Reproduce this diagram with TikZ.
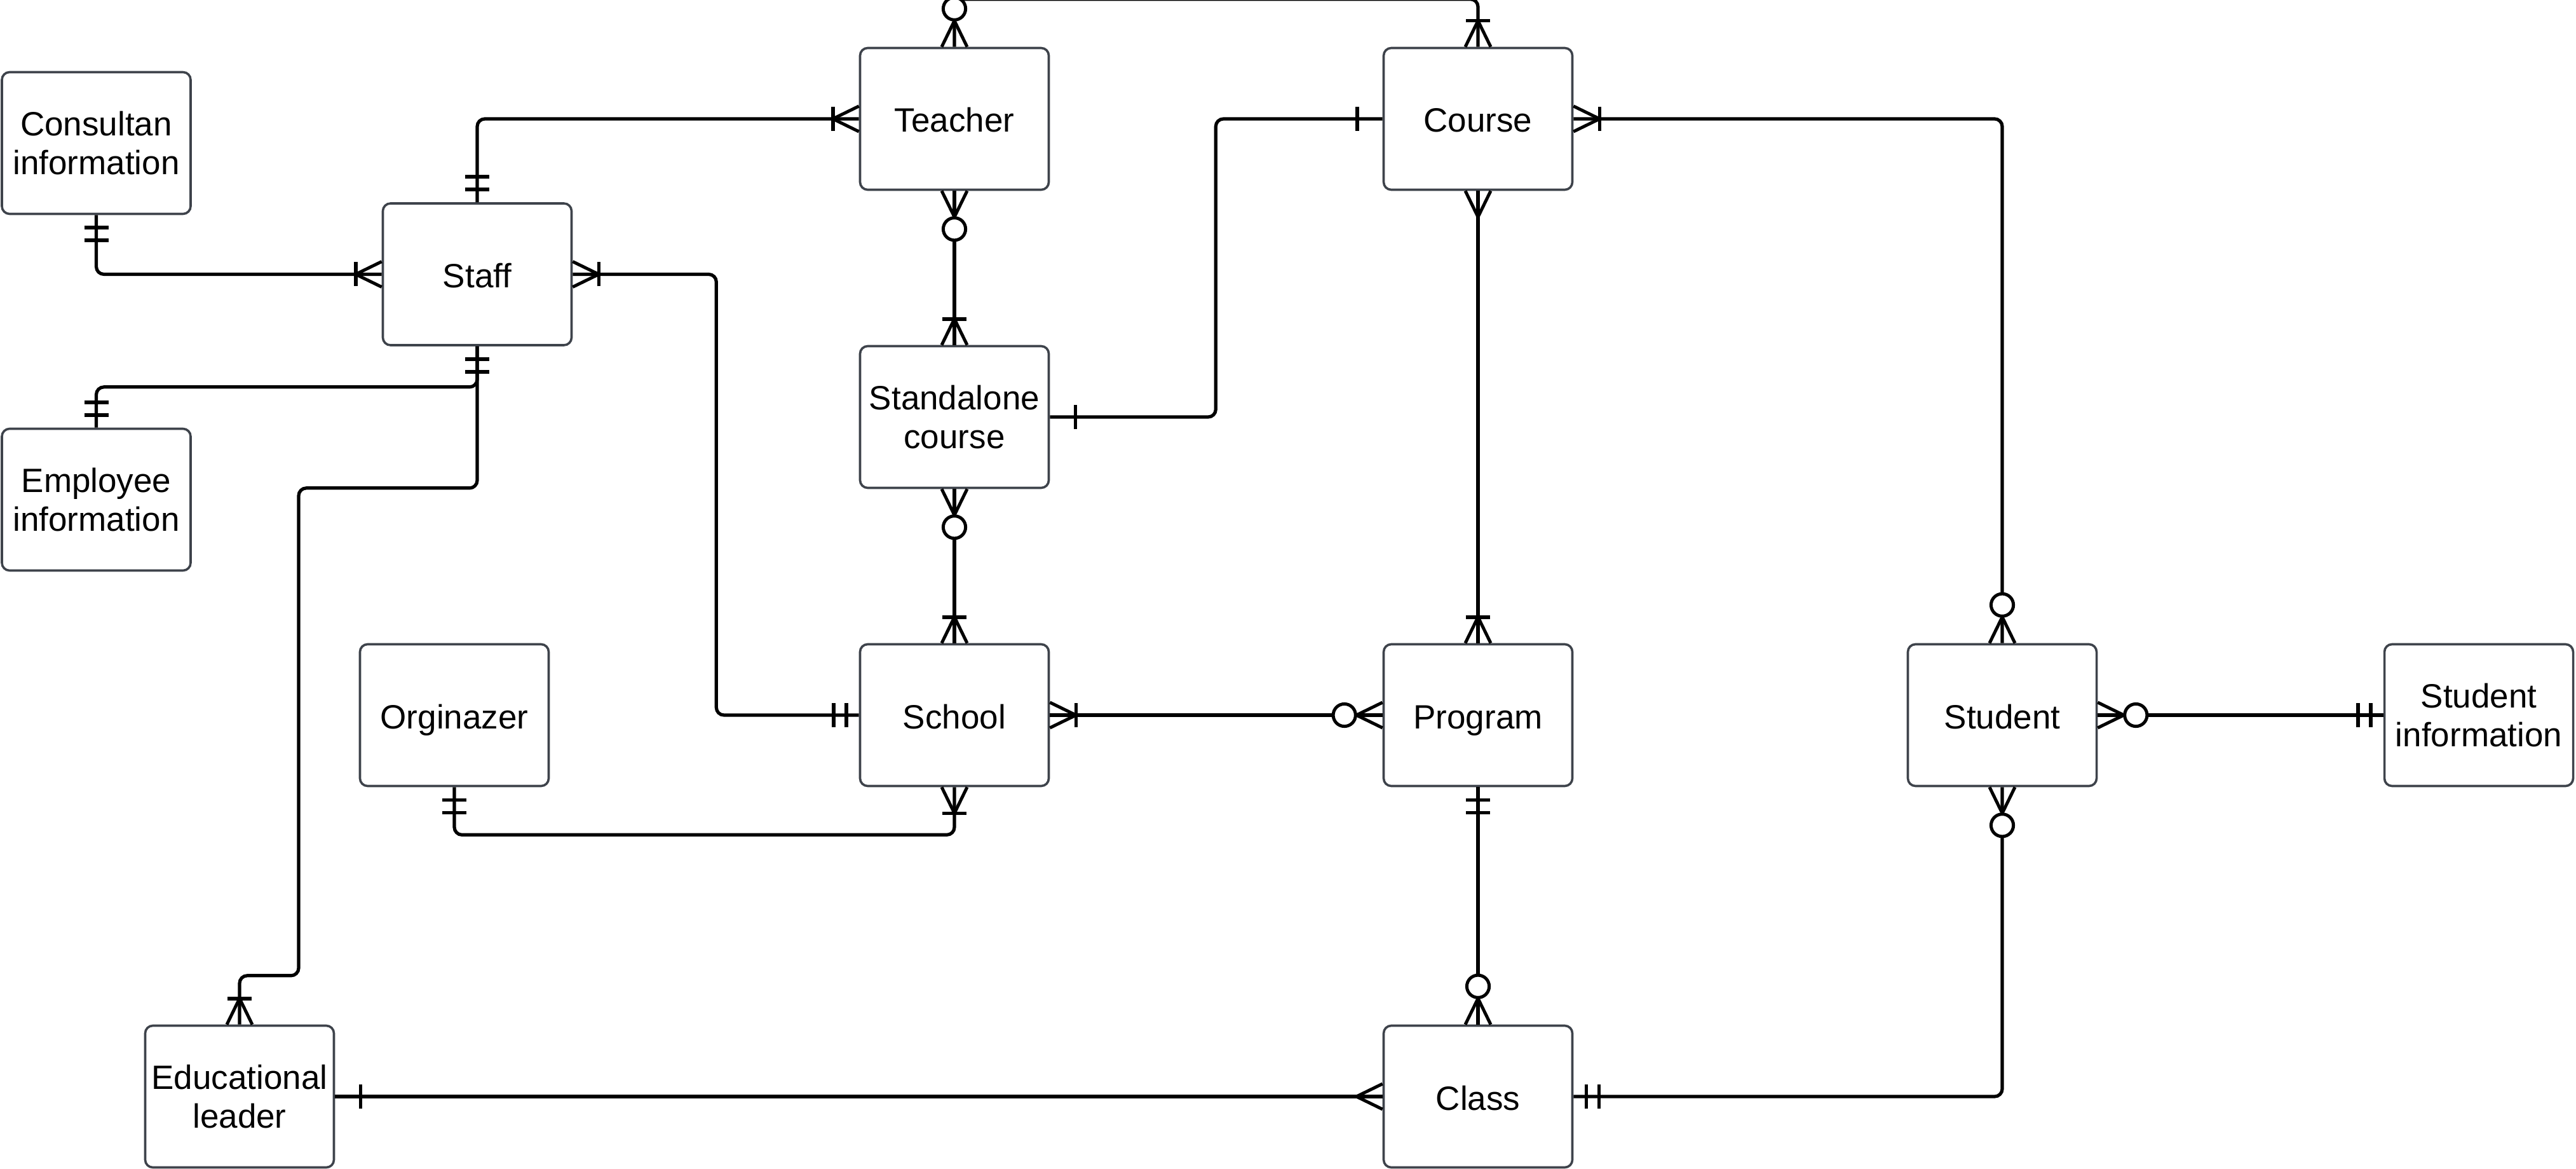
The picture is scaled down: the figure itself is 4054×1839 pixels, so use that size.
\documentclass[tikz,border=0pt]{standalone}
\usepackage{fontspec}
\setmainfont{Liberation Sans}
\definecolor{boxline}{RGB}{62,67,75}
\tikzset{
  ent/.style={draw=boxline, line width=0.9pt, rounded corners=3pt, minimum width=74.25pt, minimum height=55.75pt,
    align=center, font=\fontsize{13.25pt}{15.2pt}\selectfont, inner sep=0pt, fill=white},
  oneline/.style={text height=10.5pt, text depth=0pt},
  conn/.style={line width=1.3pt, rounded corners=3pt},
  mk/.style={line width=1.25pt},
  barmk/.style={line width=1.4pt}
}
\newcommand\erMany[2]{\begin{scope}[shift={(#1)},rotate=#2]\draw[mk] (0,20) -- (41,0) -- (0,-20);\end{scope}}
\newcommand\erOneMany[2]{\begin{scope}[shift={(#1)},rotate=#2]\draw[mk] (0,20) -- (41,0) -- (0,-20);\draw[barmk] (41,19) -- (41,-19);\end{scope}}
\newcommand\erZeroMany[2]{\begin{scope}[shift={(#1)},rotate=#2]\draw[mk] (0,20) -- (41,0) -- (0,-20);\draw[mk,fill=white] (60,0) circle[radius=4.4pt];\end{scope}}
\newcommand\erOne[2]{\begin{scope}[shift={(#1)},rotate=#2]\draw[barmk] (40,19) -- (40,-19);\end{scope}}
\newcommand\erOnlyOne[2]{\begin{scope}[shift={(#1)},rotate=#2]\draw[barmk] (20,19) -- (20,-19);\draw[barmk] (40,19) -- (40,-19);\end{scope}}
\begin{document}
\begin{tikzpicture}[x=0.25pt,y=-0.25pt]
\useasboundingbox (0,0) rectangle (4054,1839);
% entities
\node[ent] (consultan) at (151.5,225) {Consultan\\information};
\node[ent,oneline] (staff) at (751,431.5) {Staff};
\node[ent] (employee) at (151.5,786) {Employee\\information};
\node[ent,oneline] (teacher) at (1502,187) {Teacher};
\node[ent,oneline] (course) at (2326,187) {Course};
\node[ent] (standalone) at (1502,656) {Standalone\\course};
\node[ent,oneline] (school) at (1502,1125) {School};
\node[ent,oneline] (orginazer) at (715,1125) {Orginazer};
\node[ent,oneline] (program) at (2326,1125) {Program};
\node[ent,oneline] (student) at (3151,1125) {Student};
\node[ent] (studinfo) at (3901,1125) {Student\\information};
\node[ent] (edu) at (377,1725) {Educational\\leader};
\node[ent,oneline] (class) at (2326,1725) {Class};
% connectors
\draw[conn] (teacher.north) -- ++(0,-75) -| (course.north);
\draw[conn] (teacher.south) -- (standalone.north);
\draw[conn] (standalone.south) -- (school.north);
\draw[conn] (staff.north) |- (teacher.west);
\draw[conn] (consultan.south) |- (staff.west);
\draw[conn] (staff.south) -- ++(0,64) -| (employee.north);
\draw[conn] (staff.south) -- ++(0,223) -| ++(-281,767) -| (edu.north);
\draw[conn] (staff.east) -- ++(226,0) |- (school.west);
\draw[conn] (standalone.east) -- ++(261,0) |- (course.west);
\draw[conn] (course.east) -| (student.north);
\draw[conn] (course.south) -- (program.north);
\draw[conn] (school.east) -- (program.west);
\draw[conn] (orginazer.south) -- ++(0,75) -| (school.south);
\draw[conn] (program.south) -- (class.north);
\draw[conn] (student.east) -- (studinfo.west);
\draw[conn] (student.south) |- (class.east);
\draw[conn] (edu.east) -- (class.west);
% cardinality marks
\erZeroMany{teacher.north}{90}
\erOneMany{course.north}{90}
\erZeroMany{teacher.south}{270}
\erOneMany{standalone.north}{90}
\erZeroMany{standalone.south}{270}
\erOneMany{school.north}{90}
\erOnlyOne{staff.north}{90}
\erOneMany{teacher.west}{180}
\erOnlyOne{consultan.south}{270}
\erOneMany{staff.west}{180}
\erOnlyOne{staff.south}{270}
\erOnlyOne{employee.north}{90}
\erOneMany{edu.north}{90}
\erOneMany{staff.east}{0}
\erOnlyOne{school.west}{180}
\erOne{standalone.east}{0}
\erOne{course.west}{180}
\erOneMany{course.east}{0}
\erZeroMany{student.north}{90}
\erMany{course.south}{270}
\erOneMany{program.north}{90}
\erOneMany{school.east}{0}
\erZeroMany{program.west}{180}
\erOnlyOne{orginazer.south}{270}
\erOneMany{school.south}{270}
\erOnlyOne{program.south}{270}
\erZeroMany{class.north}{90}
\erZeroMany{student.east}{0}
\erOnlyOne{studinfo.west}{180}
\erZeroMany{student.south}{270}
\erOnlyOne{class.east}{0}
\erOne{edu.east}{0}
\erMany{class.west}{180}
\end{tikzpicture}
\end{document}
